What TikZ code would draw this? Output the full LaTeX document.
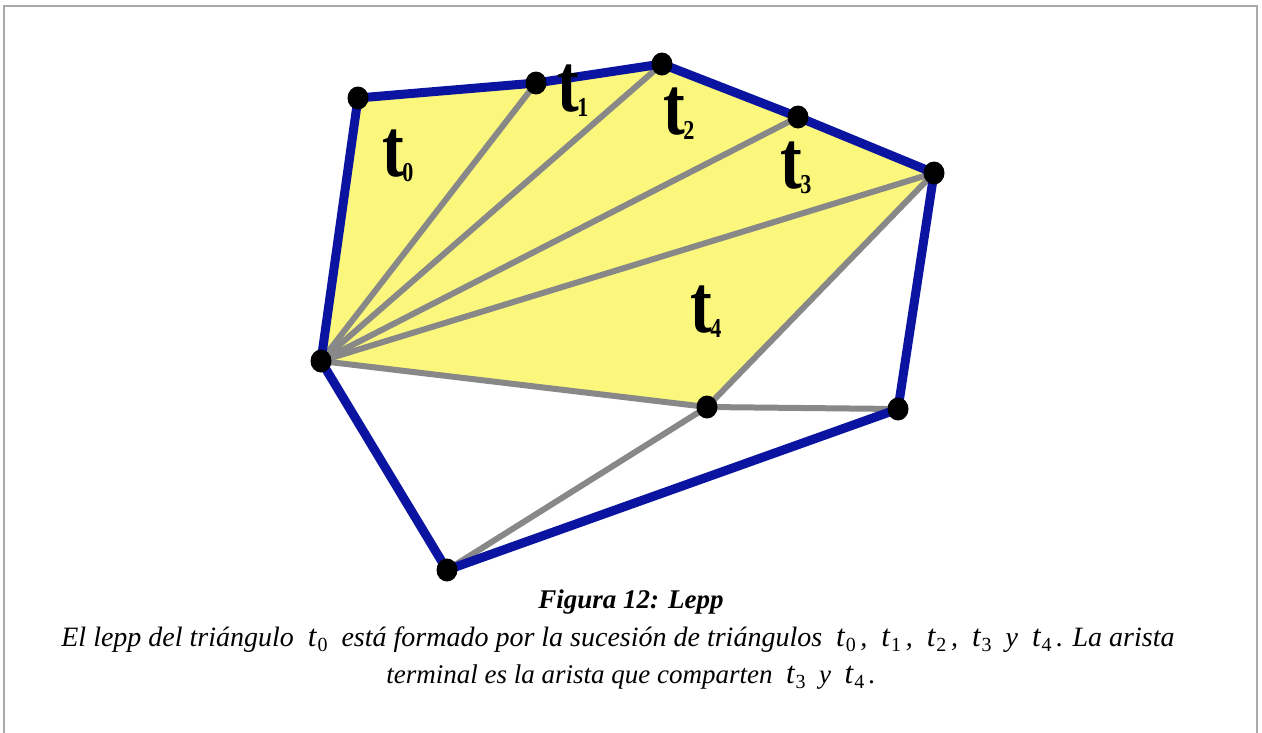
\documentclass[tikz,border=0pt]{standalone}
\usepackage{fontspec}
\usepackage{graphicx}
\usetikzlibrary{shapes.geometric}
\setmainfont{Liberation Serif}
\definecolor{hullblue}{HTML}{0A14A0}
\definecolor{edgegray}{HTML}{888888}
\definecolor{fillyellow}{HTML}{FBF77C}
\definecolor{framegray}{HTML}{AAAAAA}
\newcommand{\tlab}[1]{\fontsize{74}{74}\selectfont\bfseries\scalebox{0.88}[1.12]{t}\kern-2pt\raisebox{-5pt}{\fontsize{26}{26}\selectfont\scalebox{0.85}[1.05]{#1}}}
\newcommand{\ct}[1]{{\fontsize{31}{31}\selectfont\itshape t}\kern1pt\raisebox{-5pt}{\fontsize{20}{20}\selectfont\upshape #1}}
\begin{document}
\begin{tikzpicture}[x=1pt,y=-1pt,
  hull/.style={draw=hullblue,line width=9pt,line join=round,line cap=round},
  inner/.style={draw=edgegray,line width=6pt,line cap=round},
  vdot/.style={fill=black,ellipse,minimum width=21pt,minimum height=23pt,inner sep=0pt},
  tri/.style={inner sep=0pt,anchor=center},
  captext/.style={inner sep=0pt,anchor=center,font=\fontsize{27}{27}\selectfont\itshape}]
\useasboundingbox (0,0) rectangle (1262,732);
\draw[framegray,line width=2.5pt] (4,760) -- (4,6) -- (1257,6) -- (1257,760);
\coordinate (A) at (358,98);
\coordinate (B) at (536,83);
\coordinate (C) at (662,64);
\coordinate (D) at (798,117);
\coordinate (E) at (934,173);
\coordinate (F) at (898,409);
\coordinate (G) at (447,570);
\coordinate (H) at (321,361);
\coordinate (M) at (707,407);
\fill[fillyellow] (H) -- (A) -- (B) -- (C) -- (D) -- (E) -- (M) -- cycle;
\draw[inner] (H) -- (B);
\draw[inner] (H) -- (C);
\draw[inner] (H) -- (D);
\draw[inner] (H) -- (E);
\draw[inner] (E) -- (M);
\draw[inner] (H) -- (M);
\draw[inner] (M) -- (F);
\draw[inner] (M) -- (G);
\draw[hull] (H) -- (A) -- (B) -- (C) -- (D) -- (E) -- (F) -- (G) -- cycle;
\foreach \p in {A,B,C,D,E,F,G,H,M} \node[vdot] (d\p) at (\p) {};
\node[tri] (t0) at (398,156) {\tlab{0}};
\node[tri] (t1) at (573,91) {\tlab{1}};
\node[tri] (t2) at (679,114) {\tlab{2}};
\node[tri] (t3) at (796,168) {\tlab{3}};
\node[tri] (t4) at (706,312) {\tlab{4}};
\node[captext,font=\fontsize{27}{27}\selectfont\bfseries\itshape] (fig) at (631,602) {Figura 12: Lepp};
\node[captext,font=\fontsize{28}{28}\selectfont\itshape] (l1) at (618,640) {El lepp del triángulo \ \ct{0}\ \ está formado por la sucesión de triángulos \ \ct{0}\,, \ \ct{1}\,, \ \ct{2}\,, \ \ct{3}\ \ y \ \ct{4}\,. La arista};
\node[captext] (l2) at (631,677) {terminal es la arista que comparten \ \ct{3}\ \ y \ \ct{4}\,.};
\end{tikzpicture}
\end{document}
